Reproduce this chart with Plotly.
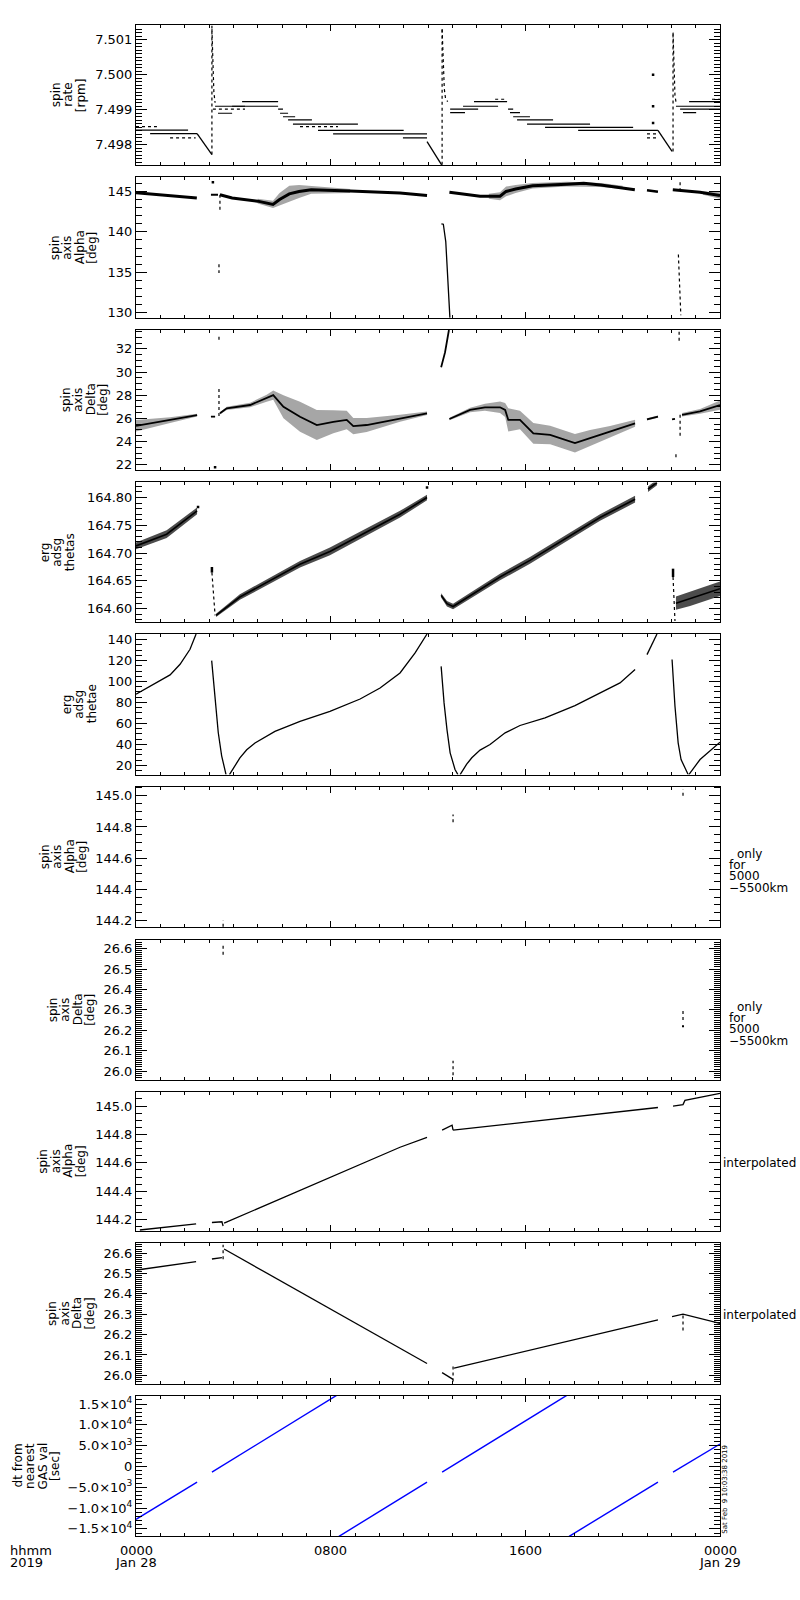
import plotly.graph_objects as go

W, H = 800, 1600
X0, X1 = 136, 720
# panel top / bottom in pixels
PANELS = [(23, 164), (176, 317), (329, 469), (482, 622), (634, 775),
          (787, 928), (941, 1081), (1093, 1233), (1245, 1386), (1398, 1539)]

# ---------------- data: time in hours after 2019-01-28 00:00 ----------------
# panel 1: spin rate [rpm], quantised levels
rate_lvl_t0 = [0.00, 0.58, 3.25, 3.37, 3.95, 4.36, 5.84, 5.92, 6.04, 6.25, 6.45, 7.48, 8.10, 10.97,
               12.91, 12.91, 13.44, 13.89, 15.29, 15.37, 15.50, 15.66, 16.07, 16.81, 18.17,
               22.19, 22.36, 22.48, 22.73]
rate_lvl_t1 = [2.14, 2.51, 4.48, 3.95, 5.84, 5.84, 6.04, 6.25, 6.54, 7.23, 9.12, 11.00, 11.96, 11.96,
               14.06, 13.52, 14.88, 15.25, 15.50, 15.78, 16.19, 17.14, 18.66, 20.43, 21.45,
               24.00, 24.00, 23.02, 24.00]
rate_lvl_v = [7.49842, 7.49832, 7.49910, 7.49890, 7.49910, 7.49923, 7.49902, 7.49890, 7.49880,
              7.49871, 7.49859, 7.49841, 7.49831, 7.49820,
              7.49902, 7.49892, 7.49910, 7.49923, 7.49902, 7.49892, 7.49880, 7.49871, 7.49859,
              7.49850, 7.49841,
              7.49910, 7.49902, 7.49892, 7.49923]
rate_dot_t0 = [0.00, 1.40, 3.16, 6.74, 14.76, 21.00, 21.00, 23.67]
rate_dot_t1 = [0.86, 2.45, 4.48, 8.30, 15.25, 21.45, 21.37, 24.00]
rate_dot_v = [7.49852, 7.49820, 7.49902, 7.49852, 7.49930, 7.49831, 7.49820, 7.49930]
rate_ramp_t = [[2.51, 3.12], [11.96, 12.56], [21.45, 22.03]]
rate_ramp_v = [[7.49832, 7.49772], [7.49809, 7.49743], [7.49841, 7.49781]]
rate_spike_t = [3.12, 12.58, 22.07]
rate_spike_lo = [7.49772, 7.49743, 7.49781]
rate_spike_hi = [7.50140, 7.50131, 7.50122]
rate_decay_t = [[3.12, 3.16, 3.20, 3.25], [12.58, 12.63, 12.67, 12.72, 12.81],
                [22.07, 22.11, 22.15, 22.19]]
rate_decay_v = [[7.50130, 7.49990, 7.49950, 7.49920], [7.50130, 7.50022, 7.49960, 7.49932, 7.49923],
                [7.50120, 7.49990, 7.49940, 7.49923]]
rate_pts_t = [21.25, 21.25, 21.25]
rate_pts_v = [7.50000, 7.49910, 7.49862]

# panel 2: spin axis alpha [deg]
alpha_t = [[0.0, 1.2, 2.5], [3.08, 3.37],
           [3.45, 3.95, 5.0, 5.63, 5.9, 6.3, 6.7, 7.2, 8.8, 10.85, 11.96],
           [12.55, 12.63, 12.73, 12.80, 12.86, 12.90],
           [12.88, 14.14, 14.96, 15.21, 15.6, 16.3, 17.7, 18.4, 19.1, 19.9, 20.5],
           [21.0, 21.45], [22.06, 22.36, 23.18, 24.0]]
alpha_v = [[144.85, 144.55, 144.2], [144.6, 144.6],
           [144.6, 144.2, 143.8, 143.4, 144.0, 144.7, 145.0, 145.2, 145.05, 144.8, 144.5],
           [141.0, 140.95, 138.8, 135.5, 132.2, 129.4],
           [144.9, 144.4, 144.4, 145.0, 145.3, 145.7, 145.9, 146.0, 145.8, 145.5, 145.2],
           [145.15, 144.95], [145.2, 145.1, 144.9, 144.5]]
alpha_w = [3, 2, 3, 1.3, 3, 2.5, 3]
alpha_band_t = [[5.0, 5.63, 5.9, 6.3, 6.7, 7.2, 8.0, 8.8],
                [14.5, 14.96, 15.21, 15.6, 16.3, 17.7, 19.1, 20.0], [23.3, 24.0]]
alpha_band_v = [[143.8, 143.4, 144.0, 144.7, 145.0, 145.2, 145.1, 145.05],
                [144.4, 144.4, 145.0, 145.3, 145.7, 145.9, 145.8, 145.5], [144.8, 144.5]]
alpha_band_hw = [[0.3, 0.45, 0.8, 1.0, 0.8, 0.5, 0.35, 0.25],
                 [0.3, 0.5, 0.6, 0.5, 0.35, 0.3, 0.25, 0.2], [0.2, 0.4]]
alpha_dot_t = [[3.45, 3.45], [3.41, 3.41], [22.29, 22.39], [22.36, 22.36]]
alpha_dot_v = [[144.6, 142.6], [136.0, 134.9], [137.2, 129.7], [146.15, 145.1]]
alpha_pts_t = [3.16]
alpha_pts_v = [146.15]

# panel 3: spin axis delta [deg]
delta_t = [[0.0, 1.4, 2.51], [3.08, 3.25],
           [3.45, 3.73, 4.69, 5.37, 5.64, 6.06, 6.74, 7.43, 8.11, 8.66, 8.93, 9.48, 10.85, 11.96],
           [12.54, 12.70, 12.86],
           [12.88, 13.73, 14.34, 14.96, 15.17, 15.30, 15.78, 16.33, 17.02, 18.04, 18.66, 19.48, 20.51],
           [21.0, 21.45], [22.03, 22.15], [22.44, 23.18, 24.0]]
delta_v = [[25.35, 25.85, 26.28], [26.14, 26.14],
           [26.43, 26.86, 27.15, 27.73, 28.0, 27.0, 26.14, 25.42, 25.7, 25.86, 25.33, 25.42, 26.0, 26.43],
           [30.41, 31.7, 33.64],
           [25.94, 26.72, 26.95, 26.95, 26.72, 25.86, 25.86, 24.7, 24.56, 23.85, 24.28, 24.84, 25.57],
           [25.9, 26.14], [25.9, 25.95], [26.3, 26.6, 27.15]]
delta_hw = [[0.5, 0.25, 0.12], [0.05, 0.05],
            [0.1, 0.15, 0.2, 0.3, 0.4, 1.0, 1.3, 1.3, 1.0, 0.8, 0.7, 0.6, 0.3, 0.15],
            [0.05, 0.05, 0.05],
            [0.1, 0.2, 0.3, 0.5, 0.6, 1.0, 0.8, 0.9, 0.8, 0.8, 0.7, 0.5, 0.3],
            [0.1, 0.1], [0.05, 0.05], [0.15, 0.2, 0.4]]
delta_dot_t = [[3.41, 3.41], [3.41, 3.41], [22.36, 22.36], [22.32, 22.32], [22.19, 22.19]]
delta_dot_v = [[26.2, 28.6], [32.8, 33.2], [26.3, 24.42], [32.7, 33.64], [22.9, 22.5]]
delta_pts_t = [3.25]
delta_pts_v = [21.77]

# panel 4: erg adsg thetas
thetas_t = [[0.0, 1.26, 2.51], [3.29, 4.27, 6.74, 7.97, 10.85, 11.96],
            [12.54, 12.78, 13.03, 14.96, 16.19, 17.43, 19.07, 20.51], [21.04, 21.41],
            [22.19, 22.77, 24.0]]
thetas_v = [[164.713, 164.734, 164.776], [164.588, 164.621, 164.680, 164.703, 164.770, 164.800],
            [164.624, 164.609, 164.604, 164.657, 164.687, 164.720, 164.764, 164.797],
            [164.815, 164.827], [164.610, 164.618, 164.636]]
thetas_hw = [[0.006, 0.007, 0.006], [0.003, 0.005, 0.006, 0.007, 0.006, 0.005],
             [0.004, 0.005, 0.005, 0.006, 0.006, 0.006, 0.006, 0.006], [0.005, 0.005],
             [0.012, 0.013, 0.013]]
thetas_dot_t = [[3.12, 3.25], [22.07, 22.15]]
thetas_dot_v = [[164.665, 164.588], [164.657, 164.578]]
thetas_bar_t = [[3.12, 3.12], [22.07, 22.07]]
thetas_bar_v = [[164.665, 164.675], [164.657, 164.672]]
thetas_pts_t = [2.55, 11.96]
thetas_pts_v = [164.783, 164.818]

# panel 5: erg adsg thetae
thetae_t = [[0.0, 0.58, 1.40, 1.81, 2.22, 2.47],
            [3.11, 3.25, 3.38, 3.52, 3.70],
            [3.84, 4.0, 4.27, 4.55, 4.89, 5.71, 6.74, 7.97, 9.21, 10.03, 10.85, 11.47, 11.96],
            [12.54, 12.66, 12.78, 12.91, 13.11, 13.23],
            [13.32, 13.45, 13.59, 13.80, 14.14, 14.55, 15.17, 15.78, 16.81, 18.04, 19.07, 19.89, 20.51],
            [21.0, 21.41],
            [22.03, 22.15, 22.28, 22.40, 22.69],
            [22.72, 23.18, 24.0]]
thetae_v = [[87.9, 95.2, 106.3, 116.5, 130.8, 145.4],
            [120, 86.3, 51.3, 29, 11.1],
            [11.1, 17.3, 27, 34.8, 41.3, 52.4, 62, 71.5, 83.3, 93.8, 108.2, 127.3, 145.4],
            [114.5, 79.6, 54.1, 31.9, 16, 11.1],
            [11.1, 16, 21, 27.2, 34.5, 39.8, 51, 58, 65.3, 77, 89.2, 98.7, 111.4],
            [125.7, 145.4],
            [121, 76.4, 41.4, 25.5, 11.1],
            [11.1, 25.5, 42]]

# panels 6 / 7: spin axis only for 5000-5500 km
sel_t = [3.58, 13.03, 22.48]
sel_alpha_lo = [144.16, 144.83, 145.00]
sel_alpha_hi = [144.20, 144.88, 145.04]
sel_delta_lo = [26.57, 25.98, 26.25]
sel_delta_hi = [26.62, 26.05, 26.30]
sel_delta_pts_t = [22.48]
sel_delta_pts_v = [26.22]

# panel 8: interpolated alpha
ialpha_t = [[0.16, 2.47], [3.12, 3.53, 3.58], [3.62, 10.85, 11.96], [12.58, 12.99, 13.03],
            [13.03, 21.45], [22.07, 22.48, 22.56, 24.0]]
ialpha_v = [[144.127, 144.17], [144.18, 144.185, 144.155], [144.175, 144.71, 144.78],
            [144.83, 144.865, 144.83], [144.83, 144.99], [145.0, 145.01, 145.04, 145.09]]

# panel 9: interpolated delta
idelta_t = [[0.04, 2.47], [3.12, 3.53], [3.62, 10.85, 11.96], [12.58, 13.03], [13.07, 21.45],
            [22.03, 22.48, 24.0]]
idelta_v = [[26.517, 26.558], [26.571, 26.578], [26.62, 26.131, 26.058], [26.013, 25.98],
            [26.035, 26.272], [26.288, 26.30, 26.255]]
idelta_lo = [26.57, 25.97, 26.22]
idelta_hi = [26.641, 26.05, 26.30]

# panel 10: dt from nearest GAS value [sec]
dt_t = [[0.00, 2.51], [3.12, 8.32], [8.34, 11.96], [12.58, 17.78], [17.80, 21.45], [22.07, 24.0]]
dt_v = [[-12700, -3770], [-1370, 17350], [-16790, -3770], [-1370, 17350], [-16790, -3770],
        [-1370, 5400]]

# axis ranges, ticks, titles
y_ranges = [[7.49741, 7.50142], [129.35, 146.73], [21.57, 33.64], [164.576, 164.827],
            [11.1, 145.4], [144.158, 145.059], [25.958, 26.642], [144.119, 145.102],
            [25.959, 26.649], [-16752, 17016]]
y_tick0 = [7.498, 130, 22, 164.60, 20, 144.2, 26.0, 144.2, 26.0, -15000]
y_dtick = [0.001, 5, 2, 0.05, 20, 0.2, 0.1, 0.2, 0.1, 5000]
y_minor = [0.0001, 1, 0.5, 0.01, 5, 0.05, 0.01, 0.05, 0.01, 1000]
y_fmt = ['.3f', 'd', 'd', '.2f', 'd', '.1f', '.1f', '.1f', '.1f', None]
dt_tickvals = [-15000, -10000, -5000, 0, 5000, 10000, 15000]
dt_ticktext = ['\u22121.5\u00d710<sup>4</sup>', '\u22121.0\u00d710<sup>4</sup>',
               '\u22125.0\u00d710<sup>3</sup>', '0', '5.0\u00d710<sup>3</sup>',
               '1.0\u00d710<sup>4</sup>', '1.5\u00d710<sup>4</sup>']
y_titles = [['spin', 'rate', '[rpm]'], ['spin', 'axis', 'Alpha', '[deg]'],
            ['spin', 'axis', 'Delta', '[deg]'], ['erg', 'adsg', 'thetas'],
            ['erg', 'adsg', 'thetae'], ['spin', 'axis', 'Alpha', '[deg]'],
            ['spin', 'axis', 'Delta', '[deg]'], ['spin', 'axis', 'Alpha', '[deg]'],
            ['spin', 'axis', 'Delta', '[deg]'], ['dt from', 'nearest', 'GAS val', '[sec]']]
title_right = [86, 97, 108, 75, 97, 87, 95, 86, 95, 60]
x_tickvals = [0, 8, 16, 24]
x_ticktext = [['0000', 'Jan 28'], ['0800'], ['1600'], ['0000', 'Jan 29']]

FONT = 'DejaVu Sans'
fig = go.Figure()


def sfx(n):
    return '' if n == 1 else str(n)


def segs(ts, vs):
    xs, ys = [], []
    for t, v in zip(ts, vs):
        xs += list(t) + [None]
        ys += list(v) + [None]
    return xs, ys


def band(ts, vs, hws):
    xs, ys = [], []
    for t, v, w in zip(ts, vs, hws):
        xs += list(t) + list(t[::-1]) + [None]
        ys += [a + b for a, b in zip(v, w)] + [a - b for a, b in zip(v[::-1], w[::-1])] + [None]
    return xs, ys


def verts(ts, lo, hi):
    xs, ys = [], []
    for t, a, b in zip(ts, lo, hi):
        xs += [t, t, None]
        ys += [a, b, None]
    return xs, ys


def levels(t0, t1, v):
    xs, ys = [], []
    for a, b, c in zip(t0, t1, v):
        xs += [a, b, None]
        ys += [c, c, None]
    return xs, ys


def line(n, xy, width=1.2, dash=None, color='black'):
    fig.add_trace(go.Scatter(x=xy[0], y=xy[1], mode='lines', xaxis='x' + sfx(n), yaxis='y' + sfx(n),
                             line=dict(color=color, width=width, dash=dash), hoverinfo='skip'))


def fill(n, xy, color='rgba(0,0,0,0.4)'):
    # shaded area standing for the noisy point clouds
    fig.add_trace(go.Scatter(x=xy[0], y=xy[1], mode='lines', fill='toself', fillcolor=color,
                             xaxis='x' + sfx(n), yaxis='y' + sfx(n), line=dict(width=0),
                             hoverinfo='skip'))


def dots(n, t, v, size=2.5):
    fig.add_trace(go.Scatter(x=t, y=v, mode='markers', xaxis='x' + sfx(n), yaxis='y' + sfx(n),
                             marker=dict(color='black', size=size, symbol='square'), hoverinfo='skip'))


# panel 1
line(1, levels(rate_lvl_t0, rate_lvl_t1, rate_lvl_v), width=1.2)
line(1, levels(rate_dot_t0, rate_dot_t1, rate_dot_v), width=1.2, dash='dot')
line(1, segs(rate_ramp_t, rate_ramp_v), width=1.3)
line(1, verts(rate_spike_t, rate_spike_lo, rate_spike_hi), width=1.2, dash='dot')
line(1, segs(rate_decay_t, rate_decay_v), width=1.2, dash='dot')
dots(1, rate_pts_t, rate_pts_v)

# panel 2
fill(2, band(alpha_band_t, alpha_band_v, alpha_band_hw), color='rgba(0,0,0,0.35)')
for t, v, w in zip(alpha_t, alpha_v, alpha_w):
    line(2, (list(t), list(v)), width=w)
line(2, segs(alpha_dot_t, alpha_dot_v), width=1.2, dash='dot')
dots(2, alpha_pts_t, alpha_pts_v)

# panel 3
fill(3, band(delta_t, delta_v, delta_hw), color='rgba(0,0,0,0.35)')
line(3, segs(delta_t, delta_v), width=1.8)
line(3, segs(delta_dot_t, delta_dot_v), width=1.2, dash='dot')
dots(3, delta_pts_t, delta_pts_v)

# panel 4
fill(4, band(thetas_t, thetas_v, thetas_hw), color='rgba(0,0,0,0.7)')
line(4, segs(thetas_t, thetas_v), width=1.6)
line(4, segs(thetas_dot_t, thetas_dot_v), width=1.2, dash='dot')
line(4, segs(thetas_bar_t, thetas_bar_v), width=2.5)
dots(4, thetas_pts_t, thetas_pts_v)

# panel 5
line(5, segs(thetae_t, thetae_v), width=1.3)

# panels 6, 7
line(6, verts(sel_t, sel_alpha_lo, sel_alpha_hi), width=1.2, dash='dot')
line(7, verts(sel_t, sel_delta_lo, sel_delta_hi), width=1.2, dash='dot')
dots(7, sel_delta_pts_t, sel_delta_pts_v, size=2)

# panels 8, 9
line(8, segs(ialpha_t, ialpha_v), width=1.3)
line(9, segs(idelta_t, idelta_v), width=1.3)
line(9, verts(sel_t, idelta_lo, idelta_hi), width=1.2, dash='dot')

# panel 10
line(10, segs(dt_t, dt_v), width=1.4, color='#0000ff')

layout = dict(width=W, height=H, margin=dict(l=0, r=0, t=0, b=0), showlegend=False,
              plot_bgcolor='white', paper_bgcolor='white', hovermode=False,
              font=dict(family=FONT, size=13, color='black'))
for i, (top, bot) in enumerate(PANELS):
    n = i + 1
    layout['xaxis' + sfx(n)] = dict(
        domain=[X0 / W, X1 / W], range=[0, 24], anchor='y' + sfx(n),
        showline=True, linecolor='black', linewidth=1, mirror='ticks',
        ticks='inside', ticklen=6, tickcolor='black', tickvals=x_tickvals,
        showticklabels=False, showgrid=False, zeroline=False,
        minor=dict(ticks='inside', ticklen=3, dtick=1, tick0=0, tickcolor='black', showgrid=False))
    ya = dict(
        domain=[1 - bot / H, 1 - top / H], range=y_ranges[i], anchor='x' + sfx(n),
        showline=True, linecolor='black', linewidth=1, mirror='ticks',
        ticks='inside', ticklen=11, tickcolor='black', showgrid=False, zeroline=False,
        tickfont=dict(family=FONT, size=13, color='black'),
        minor=dict(ticks='inside', ticklen=6, dtick=y_minor[i], tick0=y_tick0[i],
                   tickcolor='black', showgrid=False))
    if y_fmt[i] is None:
        ya.update(tickmode='array', tickvals=dt_tickvals, ticktext=dt_ticktext)
    else:
        ya.update(tick0=y_tick0[i], dtick=y_dtick[i], tickformat=y_fmt[i])
    layout['yaxis' + sfx(n)] = ya

ann = []
for i, (top, bot) in enumerate(PANELS):
    words = y_titles[i]
    k = len(words)
    for j, w in enumerate(words):
        cx = title_right[i] - 5 - (k - 1 - j) * 12.5
        ann.append(dict(text=w, x=cx / W, y=1 - (top + bot) / 2 / H, xref='paper', yref='paper',
                        xanchor='center', yanchor='middle', textangle=-90, showarrow=False,
                        font=dict(family=FONT, size=12, color='black')))

# right side notes
for (top, bot) in PANELS[5:7]:
    cy = (top + bot) / 2 + 14
    for j, (w, dx) in enumerate([('only', 8), ('for', 0), ('5000', 0), ('\u22125500km', 0)]):
        ann.append(dict(text=w, x=(727 + dx) / W, y=1 - (cy - 17 + j * 11.3) / H, xref='paper',
                        yref='paper', xanchor='left', yanchor='middle', showarrow=False,
                        font=dict(family=FONT, size=12, color='black')))
for (top, bot) in PANELS[7:9]:
    ann.append(dict(text='interpolated', x=721 / W, y=1 - ((top + bot) / 2 + 2) / H, xref='paper',
                    yref='paper', xanchor='left', yanchor='middle', showarrow=False,
                    font=dict(family=FONT, size=12, color='black')))
ann.append(dict(text='Sat Feb\u00a0 9 10:03:38 2019', x=725 / W, y=1 - 1539 / H, xref='paper',
                yref='paper', xanchor='center', yanchor='bottom', textangle=-90, showarrow=False,
                font=dict(family=FONT, size=7, color='black')))

# time axis labels
for tv, lines in zip(x_tickvals, x_ticktext):
    for j, w in enumerate(lines):
        ann.append(dict(text=w, x=tv, xref='x10', y=1 - (1553 + 12 * j) / H, yref='paper',
                        xanchor='center', yanchor='middle', showarrow=False,
                        font=dict(family=FONT, size=13, color='black')))
for j, w in enumerate(['hhmm', '2019']):
    ann.append(dict(text=w, x=8 / W, y=1 - (1553 + 12 * j) / H, xref='paper', yref='paper',
                    xanchor='left', yanchor='middle', showarrow=False,
                    font=dict(family=FONT, size=13, color='black')))

layout['annotations'] = ann
fig.update_layout(**layout)

fig.write_html("out.html", config={'displayModeBar': False},
               post_script="document.body.style.margin='0';")
